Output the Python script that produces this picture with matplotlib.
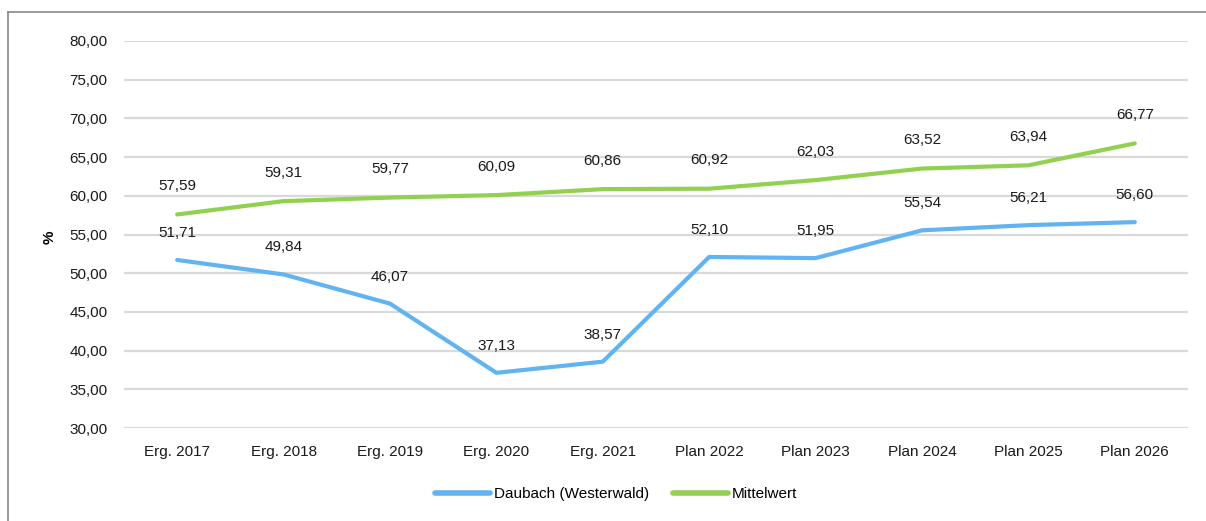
import matplotlib
matplotlib.use('Agg')
import matplotlib.pyplot as plt
from matplotlib.lines import Line2D

plt.rcParams['font.family'] = ['Liberation Sans', 'DejaVu Sans']

categories = ['Erg. 2017', 'Erg. 2018', 'Erg. 2019', 'Erg. 2020', 'Erg. 2021',
              'Plan 2022', 'Plan 2023', 'Plan 2024', 'Plan 2025', 'Plan 2026']
daubach = [51.71, 49.84, 46.07, 37.13, 38.57, 52.10, 51.95, 55.54, 56.21, 56.60]
mittelwert = [57.59, 59.31, 59.77, 60.09, 60.86, 60.92, 62.03, 63.52, 63.94, 66.77]
yticks = [30, 35, 40, 45, 50, 55, 60, 65, 70, 75, 80]

blue = '#62B3F2'
green = '#92D050'


def fmt(v):
    return f'{v:.2f}'.replace('.', ',')


fig = plt.figure(figsize=(12.06, 5.21), dpi=100)
ax = fig.add_axes([124 / 1206, 1 - 428 / 521, 1064 / 1206, 387 / 521])

x = list(range(len(categories)))
ax.plot(x, daubach, color=blue, lw=3, solid_capstyle='round', solid_joinstyle='round',
        label='Daubach (Westerwald)', zorder=3)
ax.plot(x, mittelwert, color=green, lw=3, solid_capstyle='round', solid_joinstyle='round',
        label='Mittelwert', zorder=3)

for xi, v in zip(x, daubach):
    ax.annotate(fmt(v), (xi, v), xytext=(0, 19.5), textcoords='offset points',
                ha='center', va='center', fontsize=11, color='#1a1a1a')
for xi, v in zip(x, mittelwert):
    ax.annotate(fmt(v), (xi, v), xytext=(0, 20.5), textcoords='offset points',
                ha='center', va='center', fontsize=11, color='#1a1a1a')

ax.set_xlim(-0.5, len(categories) - 0.5)
ax.set_ylim(30, 80)
ax.set_yticks(yticks)
ax.set_yticklabels([fmt(t) for t in yticks], fontsize=11, color='#1a1a1a')
ax.set_xticks(x)
ax.set_xticklabels(categories, fontsize=11, color='#1a1a1a')
ax.tick_params(axis='both', length=0)
ax.tick_params(axis='y', pad=12)
ax.tick_params(axis='x', pad=12)
ax.grid(axis='y', color='#D9D9D9', lw=1.6, zorder=0)
ax.set_axisbelow(True)
for s in ax.spines.values():
    s.set_visible(False)

fig.text(50 / 1206, 1 - 237 / 521, '%', rotation=90, fontsize=11, fontweight='bold',
         ha='center', va='center')

fig.legend(handles=[Line2D([], [], color=blue, lw=4, solid_capstyle='round'),
                    Line2D([], [], color=green, lw=4, solid_capstyle='round')],
           labels=['Daubach (Westerwald)', 'Mittelwert'],
           loc='center', bbox_to_anchor=(616 / 1206, 1 - 494 / 521), ncol=2,
           frameon=False, fontsize=11, handlelength=3.6, handletextpad=0.25,
           columnspacing=1.6)

# outer chart frame (only left and top edges visible)
fig.add_artist(Line2D([7.5 / 1206, 7.5 / 1206], [0, 1 - 11.5 / 521], color='#888888', lw=1.2,
                      transform=fig.transFigure))
fig.add_artist(Line2D([7.5 / 1206, 1], [1 - 11.5 / 521, 1 - 11.5 / 521], color='#888888', lw=1.2,
                      transform=fig.transFigure))

plt.savefig('out.png', dpi=100)
